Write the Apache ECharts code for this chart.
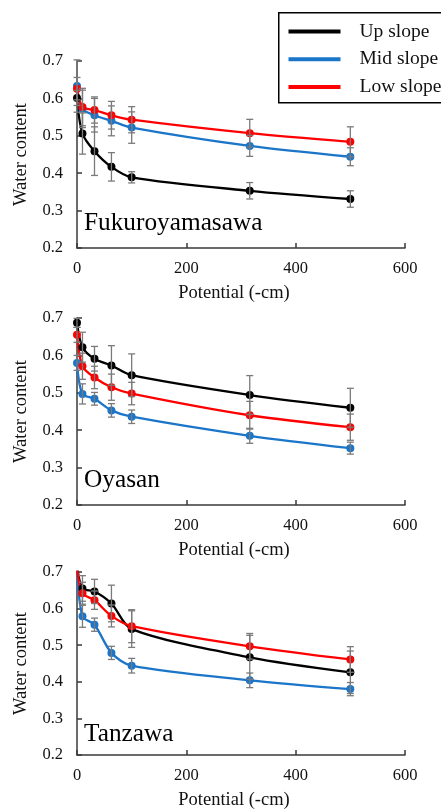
<!DOCTYPE html>
<html>
<head>
<meta charset="utf-8">
<script src="https://cdn.jsdelivr.net/npm/echarts@6/dist/echarts.min.js"></script>
<style>
  html, body { margin: 0; padding: 0; background: #fff; }
  #chart { width: 441px; height: 811px; }
</style>
</head>
<body>
<div id="chart"></div>
<script>
// potential (-cm) at which water content was measured
var potential = [0, 10, 32, 63, 100, 316, 500]
var sites = ['Fukuroyamasawa', 'Oyasan', 'Tanzawa']
var slopeNames = ['Up slope', 'Mid slope', 'Low slope']

// Fukuroyamasawa
var fukuUp = [0.601, 0.506, 0.459, 0.417, 0.389, 0.353, 0.331]
var fukuUpErr = [0.02, 0.055, 0.065, 0.038, 0.015, 0.022, 0.022]
var fukuMid = [0.633, 0.572, 0.555, 0.540, 0.522, 0.473, 0.444]
var fukuMidErr = [0.07, 0.05, 0.045, 0.04, 0.042, 0.028, 0.024]
var fukuLow = [0.626, 0.577, 0.569, 0.555, 0.543, 0.507, 0.484]
var fukuLowErr = [0.03, 0.05, 0.035, 0.037, 0.035, 0.037, 0.04]

// Oyasan
var oyaUp = [0.687, 0.622, 0.591, 0.573, 0.547, 0.494, 0.460]
var oyaUpErr = [0.012, 0.04, 0.033, 0.053, 0.057, 0.052, 0.052]
var oyaMid = [0.580, 0.497, 0.484, 0.453, 0.436, 0.385, 0.352]
var oyaMidErr = [0.02, 0.027, 0.017, 0.018, 0.018, 0.02, 0.016]
var oyaLow = [0.655, 0.571, 0.541, 0.515, 0.498, 0.440, 0.408]
var oyaLowErr = [0.02, 0.035, 0.03, 0.035, 0.03, 0.037, 0.035]

// Tanzawa (first points sit above the 0.7 frame)
var tanUp = [0.72, 0.655, 0.647, 0.614, 0.544, 0.467, 0.426]
var tanUpErr = [0, 0.035, 0.033, 0.05, 0.05, 0.06, 0.058]
var tanMid = [0.72, 0.579, 0.556, 0.479, 0.444, 0.404, 0.380]
var tanMidErr = [0, 0.03, 0.018, 0.018, 0.02, 0.02, 0.018]
var tanLow = [0.71, 0.642, 0.623, 0.580, 0.552, 0.497, 0.461]
var tanLowErr = [0, 0.03, 0.025, 0.03, 0.045, 0.035, 0.035]

var yTicks = [0.2, 0.3, 0.4, 0.5, 0.6, 0.7]
var xTicks = [0, 200, 400, 600]

var panelData = [
  [[fukuUp, fukuUpErr], [fukuMid, fukuMidErr], [fukuLow, fukuLowErr]],
  [[oyaUp, oyaUpErr], [oyaMid, oyaMidErr], [oyaLow, oyaLowErr]],
  [[tanUp, tanUpErr], [tanMid, tanMidErr], [tanLow, tanLowErr]]
]

var colors = ['#000000', '#1B75C8', '#FF0000']
var serif = '"Liberation Serif", "DejaVu Serif", serif'
var gridTops = [61, 318, 572]
var gridHeight = 187

function errorBar(params, api) {
  var x = api.value(0)
  var lo = api.coord([x, api.value(1)])
  var hi = api.coord([x, api.value(2)])
  var w = 3.5
  var style = { stroke: '#7a7a7a', lineWidth: 1.3 }
  return {
    type: 'group',
    children: [
      { type: 'line', shape: { x1: lo[0], y1: lo[1], x2: hi[0], y2: hi[1] }, style: style },
      { type: 'line', shape: { x1: lo[0] - w, y1: lo[1], x2: lo[0] + w, y2: lo[1] }, style: style },
      { type: 'line', shape: { x1: hi[0] - w, y1: hi[1], x2: hi[0] + w, y2: hi[1] }, style: style }
    ]
  }
}

var grids = []
var xAxes = []
var yAxes = []
var series = []
var titles = []

var axisLine = { lineStyle: { color: '#3a3a3a', width: 1.5 } }
var axisTick = { inside: true, length: 5, lineStyle: { color: '#3a3a3a', width: 1.5 } }

for (var p = 0; p < 3; p++) {
  grids.push({ left: 77, right: 36, top: gridTops[p], height: gridHeight })
  xAxes.push({
    gridIndex: p,
    type: 'value',
    min: xTicks[0],
    max: xTicks[xTicks.length - 1],
    interval: 200,
    name: 'Potential (-cm)',
    nameLocation: 'middle',
    nameGap: 36,
    nameTextStyle: { fontFamily: serif, fontSize: 18.5, color: '#111', padding: [0, 14, 0, 0] },
    axisLine: axisLine,
    axisTick: axisTick,
    splitLine: { show: false },
    axisLabel: { margin: 12, fontFamily: serif, fontSize: 16.5, color: '#111' }
  })
  yAxes.push({
    gridIndex: p,
    type: 'value',
    min: yTicks[0],
    max: yTicks[yTicks.length - 1],
    interval: 0.1,
    name: 'Water content',
    nameLocation: 'middle',
    nameGap: 46,
    nameTextStyle: { fontFamily: serif, fontSize: 18.5, color: '#111' },
    axisLine: axisLine,
    axisTick: axisTick,
    splitLine: { show: false },
    axisLabel: {
      margin: 14,
      fontFamily: serif,
      fontSize: 16.5,
      color: '#111',
      formatter: function(v) { return v.toFixed(1) }
    }
  })
  titles.push({
    text: sites[p],
    left: 79,
    top: gridTops[p] + 145,
    textStyle: { fontFamily: serif, fontSize: 25.3, fontWeight: 'normal', color: '#000' }
  })

  for (var s = 0; s < 3; s++) {
    var vals = panelData[p][s][0]
    var errs = panelData[p][s][1]
    var pts = []
    var bars = []
    for (var i = 0; i < potential.length; i++) {
      pts.push([potential[i], vals[i]])
      if (errs[i] > 0) {
        bars.push([potential[i], vals[i] - errs[i], vals[i] + errs[i]])
      }
    }
    series.push({
      name: slopeNames[s],
      type: 'line',
      xAxisIndex: p,
      yAxisIndex: p,
      data: pts,
      smooth: 0.3,
      clip: true,
      symbol: 'circle',
      symbolSize: 8,
      color: colors[s],
      lineStyle: { width: 2.3, color: colors[s] },
      itemStyle: { color: colors[s] },
      z: 2
    })
    series.push({
      type: 'custom',
      xAxisIndex: p,
      yAxisIndex: p,
      data: bars,
      renderItem: errorBar,
      z: 3,
      silent: true
    })
  }
}

var chart = echarts.init(document.getElementById('chart'), null, { renderer: 'canvas' })
chart.setOption({
  animation: false,
  backgroundColor: '#fff',
  title: titles,
  // legend frame runs off the right edge, as in the original figure
  graphic: [{
    type: 'rect',
    shape: { x: 278.75, y: 12.75, width: 200, height: 90 },
    style: { fill: 'none', stroke: '#000', lineWidth: 1.5 },
    z: 0
  }],
  legend: {
    data: slopeNames,
    orient: 'vertical',
    left: 278,
    top: 12,
    padding: [8.5, 20, 6, 10.5],
    itemGap: 5.7,
    itemWidth: 52,
    itemHeight: 4,
    icon: 'rect',
    textStyle: { fontFamily: serif, fontSize: 19.5, color: '#111', lineHeight: 22, padding: [0, 0, 0, 14] }
  },
  grid: grids,
  xAxis: xAxes,
  yAxis: yAxes,
  series: series
})
</script>
</body>
</html>
